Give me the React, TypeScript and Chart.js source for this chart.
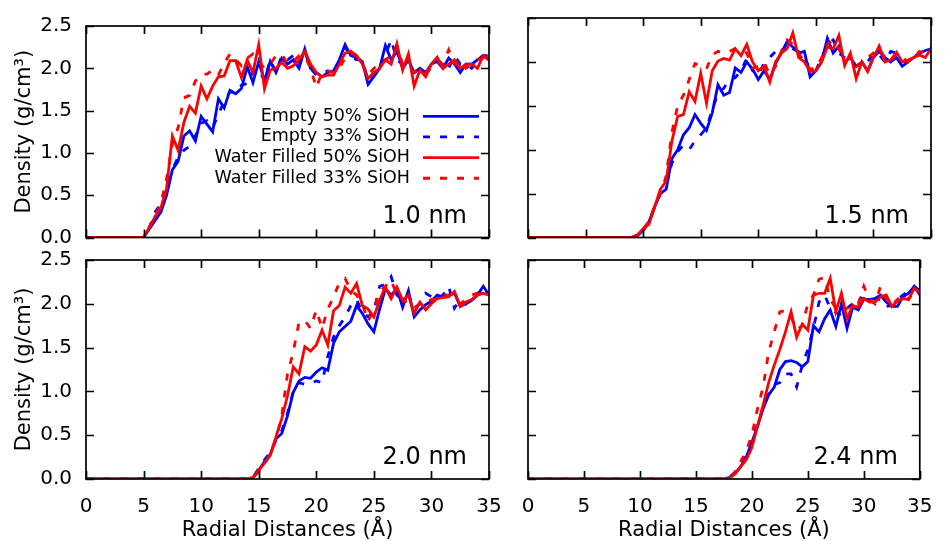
import { useEffect, useRef } from "react";
import { Chart, registerables } from "chart.js";

Chart.register(...registerables);

// ---------- data ----------
const radii = [
  0, 0.5, 1, 1.5, 2, 2.5, 3, 3.5, 4, 4.5,
  5, 5.5, 6, 6.5, 7, 7.5, 8, 8.5, 9, 9.5,
  10, 10.5, 11, 11.5, 12, 12.5, 13, 13.5, 14, 14.5,
  15, 15.5, 16, 16.5, 17, 17.5, 18, 18.5, 19, 19.5,
  20, 20.5, 21, 21.5, 22, 22.5, 23, 23.5, 24, 24.5,
  25, 25.5, 26, 26.5, 27, 27.5, 28, 28.5, 29, 29.5,
  30, 30.5, 31, 31.5, 32, 32.5, 33, 33.5, 34, 34.5,
  35,
];

const xTickValues = [0, 5, 10, 15, 20, 25, 30, 35];
const yTickValues = [0, 0.5, 1.0, 1.5, 2.0, 2.5];

const seriesNames = ["Empty 50% SiOH", "Empty 33% SiOH", "Water Filled 50% SiOH", "Water Filled 33% SiOH"];
const panelLabels = ["1.0 nm", "1.5 nm", "2.0 nm", "2.4 nm"];

// 1.0 nm
const empty50_10 = [
  0, 0, 0, 0, 0, 0, 0, 0, 0, 0,
  0, 0.1, 0.2, 0.3, 0.5, 0.8, 0.9, 1.2, 1.26, 1.14,
  1.43, 1.34, 1.25, 1.64, 1.53, 1.74, 1.7, 1.76, 2.02, 1.83,
  2.08, 1.85, 2.08, 1.95, 2.12, 2.05, 2.1, 2.0, 2.23, 2.0,
  1.95, 1.9, 1.95, 1.97, 2.1, 2.28, 2.15, 2.13, 2.08, 1.81,
  1.9, 2.0, 2.27, 2.1, 2.2, 2.0, 2.1, 1.95, 2.0, 1.95,
  2.05, 2.08, 2.0, 2.12, 2.05, 1.95, 2.05, 2.05, 2.1, 2.15,
  2.1,
];
const empty33_10 = [
  0, 0, 0, 0, 0, 0, 0, 0, 0, 0,
  0, 0.12, 0.3, 0.4, 0.55, 0.8, 0.95, 1.03, 1.08, 1.2,
  1.35, 1.38, 1.3, 1.45, 1.62, 1.72, 1.72, 1.8, 1.82, 1.95,
  2.0, 1.85, 2.1, 1.95, 2.15, 2.1, 2.15, 2.05, 2.2, 2.0,
  1.92, 1.95, 1.97, 1.95, 2.05, 2.25, 2.15, 2.1, 2.1, 1.85,
  1.95, 2.0, 2.15, 2.34, 2.1, 2.05, 2.05, 1.95, 2.0, 1.95,
  2.0, 2.1, 2.05, 2.0, 2.15, 2.05, 2.05, 2.0, 2.1, 2.15,
  2.15,
];
const water50_10 = [
  0, 0, 0, 0, 0, 0, 0, 0, 0, 0,
  0, 0.12, 0.25, 0.35, 0.58, 1.2, 1.03, 1.36, 1.55, 1.47,
  1.79, 1.64, 1.79, 1.9, 1.91, 2.09, 2.09, 1.89, 2.1, 1.95,
  2.28, 1.76, 1.98, 2.0, 2.07, 2.0, 2.03, 2.1, 2.2, 2.05,
  1.95, 1.9, 1.92, 1.92, 2.05, 2.18, 2.2, 2.15, 2.05, 1.88,
  1.95, 2.0, 2.1, 2.05, 2.29, 1.98, 2.17, 1.79, 1.98, 1.9,
  2.05, 2.13, 2.0, 2.05, 2.1, 2.0, 2.05, 2.05, 2.0, 2.15,
  2.1,
];
const water33_10 = [
  0, 0, 0, 0, 0, 0, 0, 0, 0, 0,
  0, 0.12, 0.25, 0.4, 0.7, 1.1, 1.3, 1.65, 1.68, 1.85,
  1.93, 1.93, 1.98, 1.92, 2.06, 2.17, 2.1, 2.03, 2.12, 2.17,
  2.08, 2.0, 2.05, 2.15, 2.17, 2.05, 2.08, 2.15, 2.15, 2.0,
  1.77, 1.95, 1.97, 1.95, 2.0, 2.12, 2.2, 2.12, 2.05, 1.92,
  2.0, 2.05, 2.1, 2.15, 2.27, 2.05, 2.0, 1.95, 2.0, 1.95,
  2.02, 2.07, 2.05, 2.22, 2.05, 2.1, 2.0, 2.05, 2.1, 2.12,
  2.2,
];

// 1.5 nm
const empty50_15 = [
  0, 0, 0, 0, 0, 0, 0, 0, 0, 0,
  0, 0, 0, 0, 0, 0, 0, 0, 0, 0.02,
  0.08, 0.18, 0.35, 0.5, 0.55, 0.9, 1.0, 1.17, 1.25, 1.4,
  1.3, 1.22, 1.42, 1.74, 1.62, 1.65, 1.93, 1.88, 2.0, 1.92,
  1.8, 1.9, 1.8, 1.98, 2.1, 2.23, 2.17, 2.1, 2.12, 1.83,
  1.9, 2.0, 2.27, 2.1, 2.18, 2.0, 2.05, 1.95, 2.0, 1.9,
  2.05, 2.12, 2.05, 2.0, 2.05, 1.95, 2.0, 2.05, 2.1, 2.13,
  2.15,
];
const empty33_15 = [
  0, 0, 0, 0, 0, 0, 0, 0, 0, 0,
  0, 0, 0, 0, 0, 0, 0, 0, 0, 0.02,
  0.08, 0.18, 0.35, 0.5, 0.6, 0.85, 0.98, 1.05, 1.0, 1.1,
  1.17, 1.25, 1.45, 1.65, 1.7, 1.8, 1.82, 1.9, 2.04, 1.9,
  1.85, 1.98, 2.05, 2.12, 2.1, 2.22, 2.15, 2.12, 2.05, 1.92,
  1.9, 2.05, 2.2, 2.25, 2.1, 2.05, 2.0, 1.95, 1.98, 2.0,
  2.1, 2.08, 2.0, 2.12, 2.1, 2.0, 2.02, 2.05, 2.1, 2.15,
  2.15,
];
const water50_15 = [
  0, 0, 0, 0, 0, 0, 0, 0, 0, 0,
  0, 0, 0, 0, 0, 0, 0, 0, 0, 0.03,
  0.1, 0.15, 0.35, 0.55, 0.64, 1.1, 1.38, 1.4, 1.66, 1.55,
  1.87, 1.53, 1.9, 2.01, 2.04, 2.02, 2.15, 2.07, 2.2, 2.0,
  1.9, 1.95, 1.77, 2.0, 2.1, 2.15, 2.33, 2.05, 2.0, 1.89,
  1.9, 2.0, 2.17, 2.15, 2.3, 1.96, 2.1, 1.81, 2.0, 1.89,
  2.05, 2.18, 2.0, 2.02, 2.11, 2.0, 2.02, 2.05, 2.08, 2.05,
  2.15,
];
const water33_15 = [
  0, 0, 0, 0, 0, 0, 0, 0, 0, 0,
  0, 0, 0, 0, 0, 0, 0, 0, 0, 0.03,
  0.1, 0.18, 0.35, 0.5, 0.7, 1.2, 1.5, 1.62, 1.8, 1.98,
  1.95, 1.92, 2.08, 2.12, 2.1, 2.12, 2.15, 2.15, 2.1, 1.93,
  1.95, 2.0, 1.85, 1.95, 2.12, 2.25, 2.2, 2.1, 2.0, 1.92,
  1.92, 2.05, 2.2, 2.25, 2.15, 2.0, 2.05, 1.95, 2.0, 2.05,
  2.1, 2.15, 2.05, 2.0, 2.1, 2.05, 2.0, 2.05, 2.12, 2.1,
  2.15,
];

// 2.0 nm
const empty50_20 = [
  0, 0, 0, 0, 0, 0, 0, 0, 0, 0,
  0, 0, 0, 0, 0, 0, 0, 0, 0, 0,
  0, 0, 0, 0, 0, 0, 0, 0, 0, 0.01,
  0.1, 0.2, 0.28, 0.46, 0.52, 0.72, 0.99, 1.12, 1.16, 1.15,
  1.22, 1.27, 1.24, 1.55, 1.68, 1.74, 1.8, 1.98, 1.89, 1.77,
  1.68, 1.94, 2.17, 2.1, 2.17, 1.96, 2.15, 1.85, 1.93, 1.99,
  2.03, 2.1, 2.08, 2.1, 2.12, 1.97, 2.0, 2.04, 2.1, 2.2,
  2.1,
];
const empty33_20 = [
  0, 0, 0, 0, 0, 0, 0, 0, 0, 0,
  0, 0, 0, 0, 0, 0, 0, 0, 0, 0,
  0, 0, 0, 0, 0, 0, 0, 0, 0, 0.02,
  0.12, 0.22, 0.3, 0.45, 0.55, 0.75, 1.0, 1.1, 1.08, 1.09,
  1.12, 1.1, 1.4, 1.62, 1.75, 1.85, 1.98, 2.05, 1.9, 1.85,
  1.92, 2.2, 2.22, 2.31, 2.1, 2.05, 2.1, 1.95, 2.0, 2.12,
  2.08, 2.05, 2.1, 2.2, 1.95, 2.05, 2.0, 2.1, 2.12, 2.15,
  2.15,
];
const water50_20 = [
  0, 0, 0, 0, 0, 0, 0, 0, 0, 0,
  0, 0, 0, 0, 0, 0, 0, 0, 0, 0,
  0, 0, 0, 0, 0, 0, 0, 0, 0, 0.02,
  0.1, 0.18, 0.27, 0.48, 0.69, 0.95, 1.28, 1.2, 1.51, 1.46,
  1.53, 1.7, 1.53, 1.92, 1.98, 2.19, 2.12, 2.23, 1.98, 1.94,
  1.85, 2.04, 2.19, 2.06, 2.19, 2.04, 2.1, 1.89, 2.02, 1.93,
  2.0, 2.06, 2.07, 2.08, 2.14, 1.97, 2.02, 2.05, 2.1, 2.12,
  2.1,
];
const water33_20 = [
  0, 0, 0, 0, 0, 0, 0, 0, 0, 0,
  0, 0, 0, 0, 0, 0, 0, 0, 0, 0,
  0, 0, 0, 0, 0, 0, 0, 0, 0, 0.02,
  0.08, 0.18, 0.28, 0.45, 0.72, 1.2, 1.45, 1.79, 1.81, 1.72,
  1.93, 1.72, 1.94, 2.08, 2.24, 2.29, 2.15, 2.1, 2.0, 1.8,
  1.95, 2.14, 2.2, 2.27, 2.1, 2.05, 2.0, 1.95, 2.0, 2.0,
  2.05, 2.05, 2.1, 2.1, 2.05, 2.0, 2.05, 2.1, 2.12, 2.15,
  2.1,
];

// 2.4 nm
const empty50_24 = [
  0, 0, 0, 0, 0, 0, 0, 0, 0, 0,
  0, 0, 0, 0, 0, 0, 0, 0, 0, 0,
  0, 0, 0, 0, 0, 0, 0, 0, 0, 0,
  0, 0, 0, 0, 0, 0, 0.02, 0.06, 0.14, 0.25,
  0.42, 0.6, 0.8, 0.96, 1.05, 1.25, 1.34, 1.35, 1.33, 1.28,
  1.34, 1.75, 1.68, 1.83, 1.93, 1.74, 2.0, 1.72, 1.96, 1.93,
  2.05, 2.05, 2.06, 2.1, 2.02, 1.97, 1.97, 2.08, 2.12, 2.2,
  2.1,
];
const empty33_24 = [
  0, 0, 0, 0, 0, 0, 0, 0, 0, 0,
  0, 0, 0, 0, 0, 0, 0, 0, 0, 0,
  0, 0, 0, 0, 0, 0, 0, 0, 0, 0,
  0, 0, 0, 0, 0, 0, 0.02, 0.08, 0.16, 0.28,
  0.45, 0.62, 0.82, 0.97, 1.08, 1.1, 1.2, 1.2, 1.05, 1.3,
  1.48, 1.72, 2.02, 2.1, 1.95, 1.9, 1.87, 1.95, 2.0, 2.08,
  2.05, 2.1, 2.05, 2.05, 1.97, 1.98, 2.05, 2.1, 2.15, 2.2,
  2.15,
];
const water50_24 = [
  0, 0, 0, 0, 0, 0, 0, 0, 0, 0,
  0, 0, 0, 0, 0, 0, 0, 0, 0, 0,
  0, 0, 0, 0, 0, 0, 0, 0, 0, 0,
  0, 0, 0, 0, 0, 0, 0.01, 0.06, 0.14, 0.22,
  0.36, 0.6, 0.84, 1.1, 1.3, 1.48, 1.68, 1.91, 1.62, 1.77,
  1.7, 2.1, 2.12, 2.12, 2.29, 1.91, 2.12, 1.83, 1.98, 1.96,
  2.06, 2.02, 2.02, 2.08, 2.1, 1.97, 2.03, 2.06, 2.05, 2.18,
  2.12,
];
const water33_24 = [
  0, 0, 0, 0, 0, 0, 0, 0, 0, 0,
  0, 0, 0, 0, 0, 0, 0, 0, 0, 0,
  0, 0, 0, 0, 0, 0, 0, 0, 0, 0,
  0, 0, 0, 0, 0, 0, 0.02, 0.07, 0.2, 0.32,
  0.5, 0.8, 1.05, 1.45, 1.68, 1.91, 1.92, 1.85, 1.7, 1.75,
  2.0, 2.1, 2.28, 2.3, 2.05, 1.95, 1.9, 1.95, 2.0, 2.0,
  2.2, 2.05, 2.0, 2.2, 2.05, 1.98, 2.05, 2.1, 2.05, 2.15,
  2.12,
];

// ---------- layout / style ----------
const W = 948;
const H = 541;
const FONT = "'DejaVu Sans', 'Liberation Sans', sans-serif";
const BLUE = "#0000ff";
const RED = "#ff0000";
const LINE_W = 2.8;
const DASH = [7, 10];
const TICK_LEN = 8;

type Area = { left: number; top: number; right: number; bottom: number };
type PanelDef = {
  label: string;
  series: number[][];
  area: Area;
  showY: boolean;
  showX: boolean;
  legend: boolean;
};

const panels: PanelDef[] = [
  { label: panelLabels[0], series: [empty50_10, empty33_10, water50_10, water33_10], area: { left: 86, top: 18, right: 489, bottom: 237.5 }, showY: true, showX: false, legend: true },
  { label: panelLabels[1], series: [empty50_15, empty33_15, water50_15, water33_15], area: { left: 528, top: 18, right: 931, bottom: 237.5 }, showY: false, showX: false, legend: false },
  { label: panelLabels[2], series: [empty50_20, empty33_20, water50_20, water33_20], area: { left: 86, top: 260, right: 489, bottom: 479 }, showY: true, showX: true, legend: false },
  { label: panelLabels[3], series: [empty50_24, empty33_24, water50_24, water33_24], area: { left: 528, top: 260, right: 931, bottom: 479 }, showY: false, showX: true, legend: false },
];

const seriesStyle = [
  { color: BLUE, dash: [] as number[], order: 4 },
  { color: BLUE, dash: DASH, order: 3 },
  { color: RED, dash: [] as number[], order: 2 },
  { color: RED, dash: DASH, order: 1 },
];

function makeOverlay(p: PanelDef) {
  return {
    id: "frameOverlay",
    afterDraw(chart: any) {
      const { ctx, chartArea: a, scales } = chart;
      const xs = scales.x;
      const ys = scales.y;
      ctx.save();
      ctx.strokeStyle = "#000";
      ctx.lineWidth = 1.7;
      ctx.beginPath();
      for (const v of xTickValues) {
        const px = Math.round(xs.getPixelForValue(v)) + 0.5;
        ctx.moveTo(px, a.bottom);
        ctx.lineTo(px, a.bottom - TICK_LEN);
        ctx.moveTo(px, a.top);
        ctx.lineTo(px, a.top + TICK_LEN);
      }
      for (const v of yTickValues) {
        const py = Math.round(ys.getPixelForValue(v)) + 0.5;
        ctx.moveTo(a.left, py);
        ctx.lineTo(a.left + TICK_LEN, py);
        ctx.moveTo(a.right, py);
        ctx.lineTo(a.right - TICK_LEN, py);
      }
      ctx.stroke();
      ctx.strokeRect(a.left, a.top, a.right - a.left, a.bottom - a.top);

      // panel label
      ctx.fillStyle = "#000";
      ctx.font = `24px ${FONT}`;
      ctx.textAlign = "right";
      ctx.textBaseline = "alphabetic";
      ctx.fillText(p.label, a.right - 22, a.bottom - 15);

      // legend
      if (p.legend) {
        ctx.font = `17.5px ${FONT}`;
        ctx.textBaseline = "middle";
        ctx.textAlign = "right";
        const textRight = 410;
        const sx0 = 423;
        const sx1 = 479;
        seriesNames.forEach((name, i) => {
          const yy = 116.3 + i * 20.65;
          ctx.fillStyle = "#000";
          ctx.fillText(name, textRight, yy);
          ctx.strokeStyle = seriesStyle[i].color;
          ctx.lineWidth = LINE_W;
          ctx.setLineDash(seriesStyle[i].dash);
          ctx.beginPath();
          ctx.moveTo(sx0, yy);
          ctx.lineTo(sx1, yy);
          ctx.stroke();
          ctx.setLineDash([]);
        });
      }
      ctx.restore();
    },
  };
}

function PanelChart({ p }: { p: PanelDef }) {
  const ref = useRef<HTMLCanvasElement | null>(null);
  useEffect(() => {
    if (!ref.current) return;
    const a = p.area;
    const chart = new Chart(ref.current, {
      type: "line",
      data: {
        datasets: p.series.map((s, i) => ({
          label: seriesNames[i],
          data: radii.map((x, j) => ({ x, y: s[j] })),
          borderColor: seriesStyle[i].color,
          borderWidth: LINE_W,
          borderDash: seriesStyle[i].dash,
          pointRadius: 0,
          tension: 0,
          fill: false,
          order: seriesStyle[i].order,
        })),
      },
      options: {
        animation: false,
        responsive: false,
        maintainAspectRatio: false,
        events: [],
        layout: { padding: { left: 0, top: a.top, right: W - a.right, bottom: 0 } },
        plugins: { legend: { display: false }, tooltip: { enabled: false } },
        scales: {
          x: {
            type: "linear",
            position: "bottom",
            min: 0,
            max: 35,
            afterBuildTicks: (s: any) => {
              s.ticks = xTickValues.map((v) => ({ value: v }));
            },
            ticks: {
              display: p.showX,
              autoSkip: false,
              maxRotation: 0,
              padding: 15.5,
              color: "#000",
              font: { family: FONT, size: 20 },
            },
            grid: { display: false, drawTicks: false },
            border: { display: false },
            title: {
              display: p.showX,
              text: "Radial Distances (Å)",
              color: "#000",
              font: { family: FONT, size: 21 },
              padding: { top: 0, bottom: -2.5 },
            },
            afterFit: (s: any) => {
              s.height = H - a.bottom;
            },
          },
          y: {
            type: "linear",
            position: "left",
            min: 0,
            max: 2.5,
            afterBuildTicks: (s: any) => {
              s.ticks = yTickValues.map((v) => ({ value: v }));
            },
            ticks: {
              display: p.showY,
              padding: 14,
              color: "#000",
              font: { family: FONT, size: 20 },
              callback: (v: any) => Number(v).toFixed(1),
            },
            grid: { display: false, drawTicks: false },
            border: { display: false },
            title: {
              display: p.showY,
              text: "Density (g/cm³)",
              color: "#000",
              font: { family: FONT, size: 21 },
              padding: { top: 11.5, bottom: 0 },
            },
            afterFit: (s: any) => {
              s.width = a.left;
            },
          },
        },
      },
      plugins: [makeOverlay(p)],
    } as any);
    return () => chart.destroy();
  }, [p]);
  return (
    <canvas
      ref={ref}
      width={W}
      height={H}
      style={{ position: "absolute", left: 0, top: 0, width: W, height: H }}
    />
  );
}

export default function App() {
  return (
    <div style={{ position: "absolute", left: 0, top: 0, width: W, height: H, background: "#fff" }}>
      {panels.map((p, i) => (
        <PanelChart key={i} p={p} />
      ))}
    </div>
  );
}
